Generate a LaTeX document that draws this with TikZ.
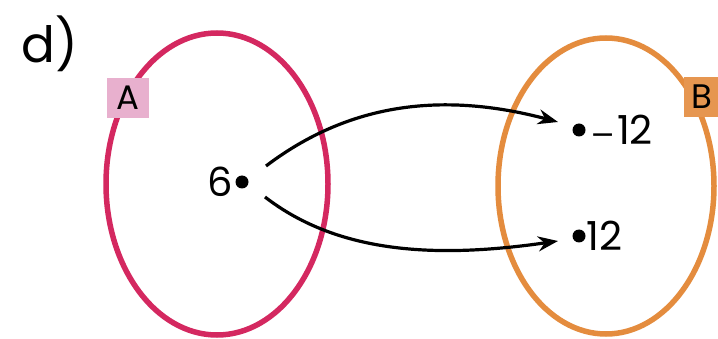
\documentclass[tikz,border=0pt]{standalone}
\usepackage{fontspec}
\setmainfont{Poppins}
\newfontfamily\minusfont{DejaVu Sans}
\usetikzlibrary{arrows.meta}
\definecolor{setA}{RGB}{212,40,96}
\definecolor{setB}{RGB}{228,140,62}
\definecolor{tagA}{RGB}{232,176,206}
\definecolor{tagB}{RGB}{230,150,80}
\tikzset{
  setline/.style={line width=5.5pt},
  elem/.style={circle,fill=black,inner sep=0pt,minimum size=13pt},
  lbl/.style={font=\fontsize{40}{40}\selectfont,inner sep=0pt},
  tagbox/.style={minimum width=42pt,minimum height=40pt,inner sep=0pt,font=\fontsize{34}{34}\selectfont},
  maparrow/.style={line width=3.2pt,-{Stealth[length=20pt,width=15pt]}}
}
\begin{document}
\begin{tikzpicture}[x=1pt,y=-1pt]
\useasboundingbox (0,0) rectangle (718,339);
\fill[white] (0,0) rectangle (718,339);
\node[lbl,font=\fontsize{50}{50}\selectfont] (title) at (50,44) {d)};
% set A
\draw[setA,setline] (217,184) ellipse [x radius=111, y radius=151];
\node[tagbox,fill=tagA] (tA) at (128,98) {A};
% set B
\draw[setB,setline] (606,186) ellipse [x radius=108, y radius=148];
\node[tagbox,fill=tagB,minimum width=36pt] (tB) at (702,97) {B};
% elements
\node[elem] (e6) at (242,182) {};
\node[lbl,anchor=east] (t6) at ([xshift=-2pt]e6.west) {6};
\node[elem] (m12) at (579,130) {};
\node[lbl,anchor=west] (tm12) at ([xshift=5pt]m12.east) {{\minusfont\fontsize{30}{30}\selectfont −}\kern1pt12};
\node[elem] (p12) at (579,236) {};
\node[lbl,anchor=west] (tp12) at ([xshift=1pt]p12.east) {12};
% arrows
\coordinate (s1) at (266,166);
\coordinate (s2) at (265,197);
\coordinate (f1) at (558,122);
\coordinate (f2) at (558,241);
\draw[maparrow] (s1) .. controls (340,110) and (430,88) .. (f1);
\draw[maparrow] (s2) .. controls (340,255) and (440,258) .. (f2);
\end{tikzpicture}
\end{document}
